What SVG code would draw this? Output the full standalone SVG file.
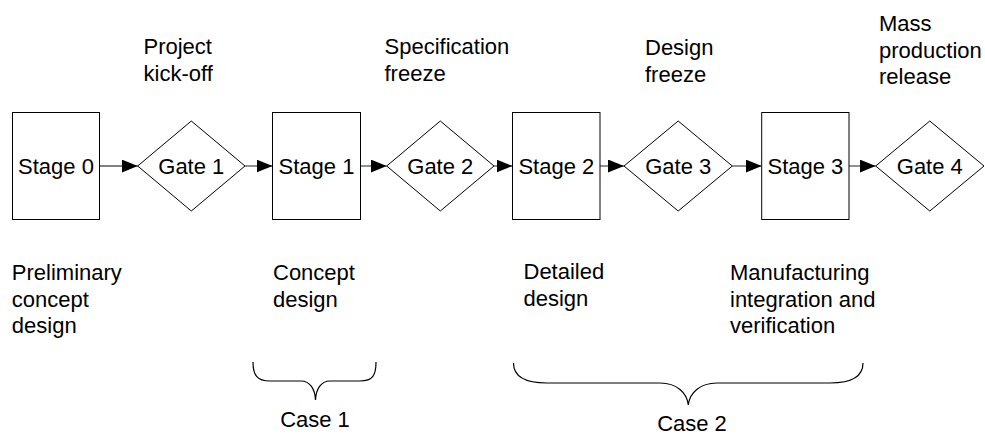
<svg xmlns="http://www.w3.org/2000/svg" width="985" height="436" viewBox="0 0 985 436">
<style>
.shape{fill:#fff;stroke:#000;stroke-width:1}
.lbl{font-family:"Liberation Sans",Arial,sans-serif;font-size:22px;fill:#000}
.mid{text-anchor:middle}
.conn{stroke:#555;stroke-width:1.3;fill:none}
.brace{stroke:#000;stroke-width:1.2;fill:none}
</style>
<defs>
<marker id="arr" viewBox="0 0 16 13" refX="16" refY="6.5" markerWidth="16" markerHeight="13" markerUnits="userSpaceOnUse" orient="auto">
<path d="M0,0 L16,6.5 L0,13 Z" fill="#000"/>
</marker>
</defs>
<rect width="985" height="436" fill="#fff"/>
<g id="connectors">
<line class="conn" x1="99" y1="166" x2="137.7" y2="166" marker-end="url(#arr)"/>
<line class="conn" x1="245" y1="166" x2="272.5" y2="166" marker-end="url(#arr)"/>
<line class="conn" x1="360.5" y1="166" x2="386.7" y2="166" marker-end="url(#arr)"/>
<line class="conn" x1="494" y1="166" x2="512.5" y2="166" marker-end="url(#arr)"/>
<line class="conn" x1="600" y1="166" x2="624" y2="166" marker-end="url(#arr)"/>
<line class="conn" x1="732.3" y1="166" x2="761.7" y2="166" marker-end="url(#arr)"/>
<line class="conn" x1="849" y1="166" x2="875.7" y2="166" marker-end="url(#arr)"/>
</g>
<g id="stage0"><rect class="shape" x="12.5" y="112.5" width="87" height="107"/><text class="lbl mid" x="56" y="173.5">Stage 0</text></g>
<g id="gate1"><polygon class="shape" points="191.3,121 245,166 191.3,211 137.7,166"/><text class="lbl mid" x="191.3" y="173.5">Gate 1</text></g>
<g id="stage1"><rect class="shape" x="272.5" y="112.5" width="88" height="107"/><text class="lbl mid" x="316.5" y="173.5">Stage 1</text></g>
<g id="gate2"><polygon class="shape" points="440.3,121 494,166 440.3,211 386.7,166"/><text class="lbl mid" x="440.3" y="173.5">Gate 2</text></g>
<g id="stage2"><rect class="shape" x="512.5" y="112.5" width="87.5" height="107"/><text class="lbl mid" x="556.3" y="173.5">Stage 2</text></g>
<g id="gate3"><polygon class="shape" points="678.2,121 732.3,166 678.2,211 624,166"/><text class="lbl mid" x="678.2" y="173.5">Gate 3</text></g>
<g id="stage3"><rect class="shape" x="761.7" y="112.5" width="87.3" height="107"/><text class="lbl mid" x="805.4" y="173.5">Stage 3</text></g>
<g id="gate4"><polygon class="shape" points="929.8,121 984,166 929.8,211 875.7,166"/><text class="lbl mid" x="929.8" y="173.5">Gate 4</text></g>
<g id="label-kickoff"><text class="lbl" x="143.5" y="54">Project</text><text class="lbl" x="143.5" y="80.7">kick-off</text></g>
<g id="label-specfreeze"><text class="lbl" x="384.5" y="54">Specification</text><text class="lbl" x="384.5" y="80.7">freeze</text></g>
<g id="label-designfreeze"><text class="lbl" x="645" y="55">Design</text><text class="lbl" x="645" y="81.7">freeze</text></g>
<g id="label-massprod"><text class="lbl" x="879" y="31">Mass</text><text class="lbl" x="879" y="57.7">production</text><text class="lbl" x="879" y="84.4">release</text></g>
<g id="label-stage0"><text class="lbl" x="11.8" y="280">Preliminary</text><text class="lbl" x="11.8" y="306.5">concept</text><text class="lbl" x="11.8" y="333">design</text></g>
<g id="label-stage1"><text class="lbl" x="273" y="280">Concept</text><text class="lbl" x="273" y="306.5">design</text></g>
<g id="label-stage2"><text class="lbl" x="523.5" y="279">Detailed</text><text class="lbl" x="523.5" y="305.5">design</text></g>
<g id="label-stage3"><text class="lbl" x="730" y="280">Manufacturing</text><text class="lbl" x="730" y="306.5">integration and</text><text class="lbl" x="730" y="333">verification</text></g>
<g id="case1"><path class="brace" d="M253,362 C253,375 257,381 270,381 L301,381 C310,381 315,389 315.5,400 C316,389 321,381 330,381 L360,381 C373,381 376,375 376,362"/><text class="lbl mid" x="315" y="427">Case 1</text></g>
<g id="case2"><path class="brace" d="M513.5,363 C513.5,376 525,383 547,383 L660,383 C677,383 687,393 688.3,405 C689.5,393 700,383 717,383 L830,383 C852,383 863,376 863,363"/><text class="lbl mid" x="692" y="431">Case 2</text></g>
</svg>
